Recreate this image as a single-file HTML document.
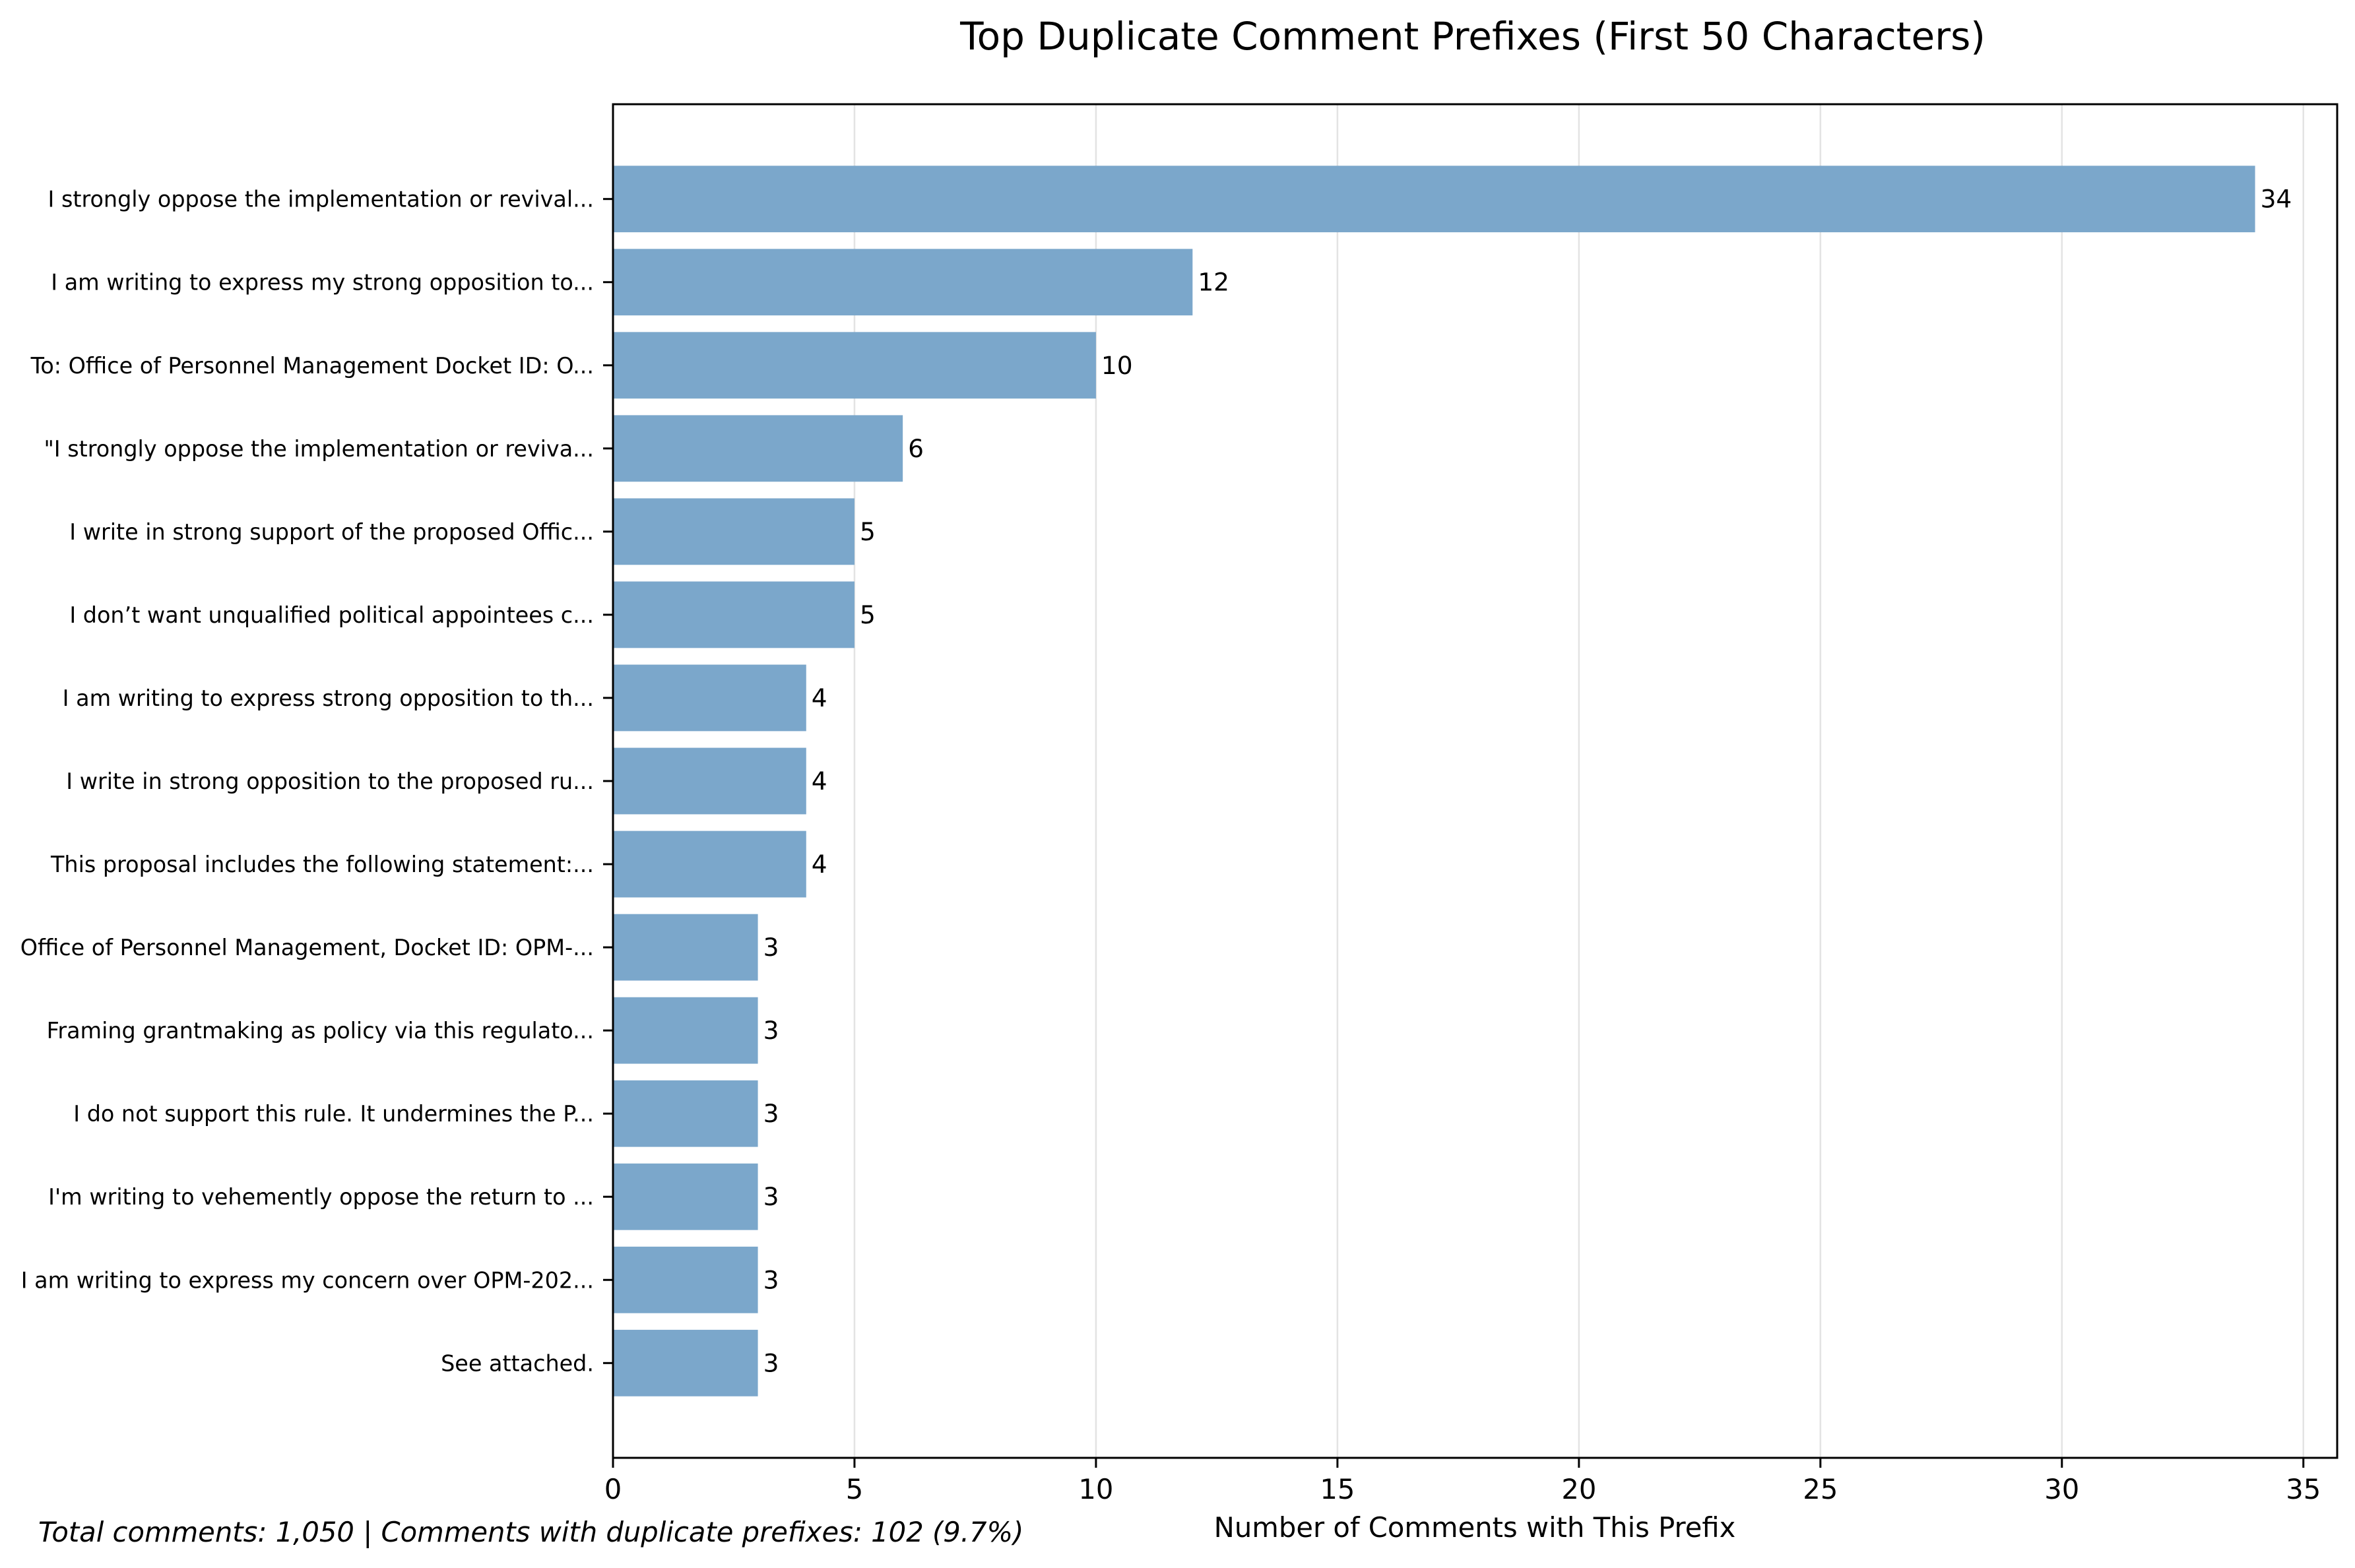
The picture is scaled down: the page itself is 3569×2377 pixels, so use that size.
<!DOCTYPE html>
<html><head><meta charset="utf-8"><style>
html,body{margin:0;padding:0;background:#fff}
svg{display:block;font-family:"DejaVu Sans","Liberation Sans",sans-serif}
</style></head><body>
<svg id="chart" width="3569" height="2377" viewBox="0 0 3569 2377" xmlns="http://www.w3.org/2000/svg">
<rect width="3569" height="2377" fill="#fff"/>
<text x="2232" y="75" font-size="58" text-anchor="middle">Top Duplicate Comment Prefixes (First 50 Characters)</text>
<g id="grid"></g>
<g id="bars"></g>
<rect x="929" y="158" width="2613" height="2052" fill="none" stroke="#000" stroke-width="3"/>
<g id="ticks"></g>
<text x="2235" y="2330" font-size="41.7" text-anchor="middle">Number of Comments with This Prefix</text>
<text x="58" y="2337" font-size="41.7" font-style="italic">Total comments: 1,050 | Comments with duplicate prefixes: 102 (9.7%)</text>
</svg>
<script>
const categories = ["I strongly oppose the implementation or revival...","I am writing to express my strong opposition to...","To: Office of Personnel Management Docket ID: O...","\"I strongly oppose the implementation or reviva...","I write in strong support of the proposed Offic...","I don\u2019t want unqualified political appointees c...","I am writing to express strong opposition to th...","I write in strong opposition to the proposed ru...","This proposal includes the following statement:...","Office of Personnel Management, Docket ID: OPM-...","Framing grantmaking as policy via this regulato...","I do not support this rule. It undermines the P...","I'm writing to vehemently oppose the return to ...","I am writing to express my concern over OPM-202...","See attached."];
const counts = [34,12,10,6,5,5,4,4,4,3,3,3,3,3,3];
const xTicks = [0,5,10,15,20,25,30,35];
const NS="http://www.w3.org/2000/svg";
const L=929,R=3542,T=158,B=2210;
const xMax=Math.max(...counts)*1.05;
const xs=v=>L+v/xMax*(R-L);
const n=categories.length;
const span=(n-1+0.8), m=0.05*span, lo=-0.4-m, hi=n-1+0.4+m;
const ys=i=>T+(i-lo)/(hi-lo)*(B-T);
const unit=(B-T)/(hi-lo);
const grid=document.getElementById('grid'),bars=document.getElementById('bars'),ticks=document.getElementById('ticks');
function mk(tag,attrs,parent){const e=document.createElementNS(NS,tag);for(const k in attrs)e.setAttribute(k,attrs[k]);parent.appendChild(e);return e;}
xTicks.forEach(t=>{
  const x=xs(t);
  const g=mk('line',{x1:x,x2:x,y1:T,y2:B,stroke:'#e3e3e3','stroke-width':2.5},grid);
  
  
  const tk=mk('line',{x1:x,x2:x,y1:B,y2:B+15,stroke:'#000','stroke-width':3},ticks);
  
  
  const lb=mk('text',{x:x,y:2272,'font-size':41.7,'text-anchor':'middle'},ticks);
  lb.textContent=t;
  
  
});
categories.forEach((c,i)=>{
  const yc=ys(i),h=0.8*unit;
  const r=mk('rect',{x:L,y:yc-h/2,width:xs(counts[i])-L,height:h,fill:'#7ba7cb'},bars);
  
  
  const v=mk('text',{x:xs(counts[i])+8,y:yc+13,'font-size':37.5},bars);
  v.textContent=counts[i];
  
  
  const tk=mk('line',{x1:L-15,x2:L,y1:yc,y2:yc,stroke:'#000','stroke-width':3},ticks);
  
  
  const lb=mk('text',{x:900,y:yc+12,'font-size':33.4,'text-anchor':'end'},ticks);
  lb.textContent=c;
  
  
});
</script>
</body></html>
